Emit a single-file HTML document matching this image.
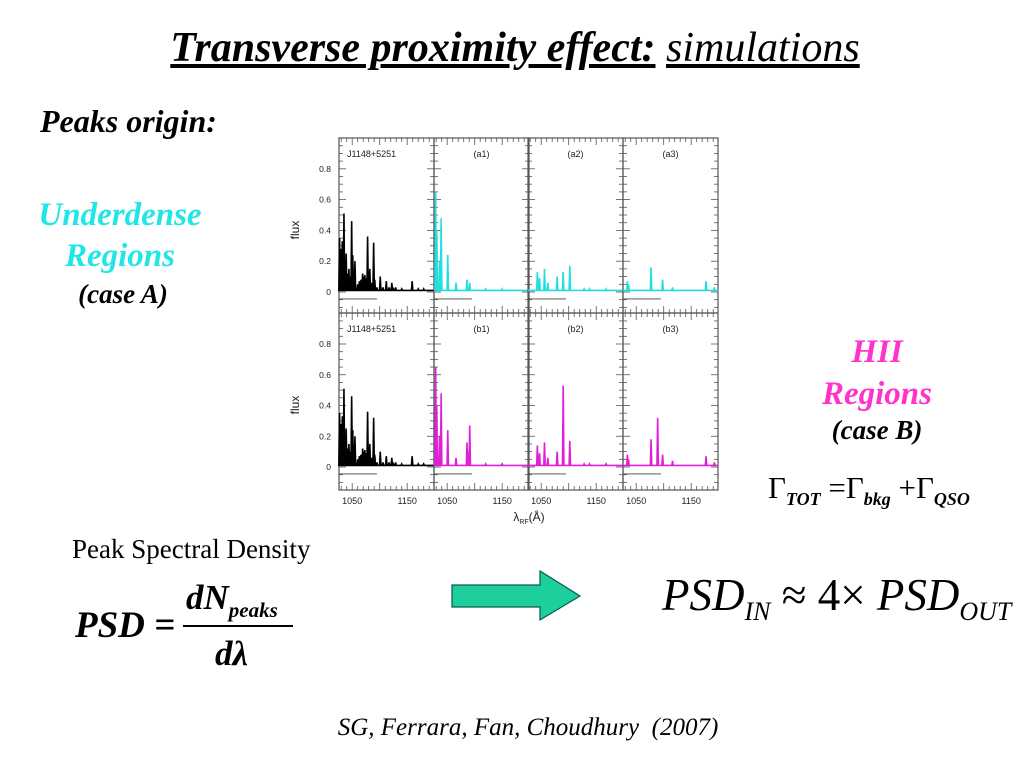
<!DOCTYPE html>
<html><head><meta charset="utf-8"><style>
body{margin:0;background:#fff;}
#slide{position:relative;width:1024px;height:768px;overflow:hidden;font-family:"Liberation Serif",serif;}
.t{position:absolute;white-space:nowrap;}
</style></head><body>
<div id="slide">
<div class="t" style="left:0;width:1030px;text-align:center;top:24px;font-size:42px;font-style:italic;"><span style="font-weight:bold;text-decoration:underline;">Transverse proximity effect:</span> <span style="text-decoration:underline;">simulations</span></div>
<div class="t" style="left:40px;top:103px;font-size:32px;font-weight:bold;font-style:italic;">Peaks origin:</div>
<div class="t" style="left:20px;width:200px;text-align:center;top:195px;font-size:33px;font-weight:bold;font-style:italic;color:#22e6e6;line-height:41px;">Underdense<br>Regions</div>
<div class="t" style="left:23px;width:200px;text-align:center;top:279px;font-size:27px;font-weight:bold;font-style:italic;">(case A)</div>
<div class="t" style="left:777px;width:200px;text-align:center;top:331px;font-size:33px;font-weight:bold;font-style:italic;color:#ff33cc;line-height:42px;">HII<br>Regions</div>
<div class="t" style="left:777px;width:200px;text-align:center;top:415px;font-size:27px;font-weight:bold;font-style:italic;">(case B)</div>
<div class="t" style="left:768px;top:470px;font-size:31px;">Γ<sub style="font-size:18px;font-style:italic;font-weight:bold;">TOT</sub> =Γ<sub style="font-size:18px;font-style:italic;font-weight:bold;">bkg</sub> +Γ<sub style="font-size:18px;font-style:italic;font-weight:bold;">QSO</sub></div>
<div class="t" style="left:72px;top:534px;font-size:27px;">Peak Spectral Density</div>
<div class="t" style="left:75px;top:604px;font-size:37px;font-weight:bold;font-style:italic;">PSD =</div>
<div class="t" style="left:186px;top:578px;font-size:35px;font-weight:bold;font-style:italic;">dN<sub style="font-size:21px;">peaks</sub></div>
<div style="position:absolute;left:183px;top:625px;width:110px;height:2px;background:#000;"></div>
<div class="t" style="left:215px;top:634px;font-size:35px;font-weight:bold;font-style:italic;">dλ</div>
<div class="t" style="left:662px;top:569px;font-size:45px;font-style:italic;">PSD<sub style="font-size:26px;">IN</sub> <span style="font-style:normal;">≈ 4×</span> PSD<sub style="font-size:26px;">OUT</sub></div>
<div class="t" style="left:0;width:1056px;text-align:center;top:714px;font-size:25px;font-style:italic;">SG, Ferrara, Fan, Choudhury &nbsp;(2007)</div>
<svg style="position:absolute;left:0;top:0" width="1024" height="768"><polygon points="452,585 540,585 540,571 580,596 540,620 540,607 452,607" fill="#1ccf9c" stroke="#0a5a50" stroke-width="1.2"/></svg>
<svg id="chart" style="position:absolute;left:0;top:0" width="1024" height="768" font-family="Liberation Sans, sans-serif"></svg>
</div>
<script>
const columnLabelsTop=["J1148+5251","(a1)","(a2)","(a3)"];
const columnLabelsBottom=["J1148+5251","(b1)","(b2)","(b3)"];
const yTicks=[0,0.2,0.4,0.6,0.8];
const xTicks=[1050,1150];
const obsWl=[1027,1029,1032,1035,1037,1039,1041,1044,1047,1049,1051,1053,1055,1060,1063,1066,1069,1071,1073,1076,1078,1080,1082,1085,1089,1091,1095,1101,1106,1112,1117,1122,1125,1129,1140,1159,1170,1180];
const obsFlux=[0.35,0.28,0.33,0.51,0.2,0.25,0.12,0.15,0.1,0.46,0.24,0.12,0.2,0.05,0.07,0.08,0.12,0.1,0.11,0.09,0.36,0.08,0.15,0.06,0.32,0.08,0.03,0.1,0.03,0.07,0.03,0.06,0.02,0.03,0.02,0.07,0.02,0.02];
const a1Wl=[1029,1031,1036,1039,1051,1066,1086,1091,1120,1150];
const a1Flux=[0.65,0.4,0.2,0.48,0.24,0.06,0.08,0.06,0.02,0.02];
const a2Wl=[1043,1047,1056,1062,1079,1090,1102,1128,1138,1168];
const a2Flux=[0.13,0.09,0.15,0.06,0.1,0.13,0.17,0.02,0.02,0.02];
const a3Wl=[1034,1036,1077,1098,1116,1177,1192];
const a3Flux=[0.07,0.05,0.16,0.08,0.03,0.07,0.03];
const b1Wl=[1029,1031,1036,1039,1051,1066,1086,1089,1091,1120,1150];
const b1Flux=[0.65,0.4,0.2,0.48,0.24,0.06,0.16,0.1,0.27,0.02,0.02];
const b2Wl=[1043,1047,1056,1062,1079,1090,1102,1128,1138,1168];
const b2Flux=[0.14,0.09,0.16,0.06,0.1,0.53,0.17,0.02,0.02,0.02];
const b3Wl=[1034,1036,1077,1089,1098,1116,1177,1192];
const b3Flux=[0.08,0.05,0.18,0.32,0.08,0.04,0.07,0.03];

const svg=document.getElementById('chart');
const NS='http://www.w3.org/2000/svg';
const colLeft=[339,434,528,623], colW=95;
const rows=[{top:138,bot:313,zero:292,scale:154},{top:313,bot:490,zero:467,scale:153.75}];
const wl0=1026, pxPerA=0.55;
function xS(c,w){return colLeft[c]+(w-wl0)*pxPerA;}
function yS(r,f){return rows[r].zero-f*rows[r].scale;}
function mk(tag,attrs){const e=document.createElementNS(NS,tag);for(const k in attrs)e.setAttribute(k,attrs[k]);svg.appendChild(e);return e;}
const series=[[obsWl,obsFlux,'#000'],[a1Wl,a1Flux,'#22dede'],[a2Wl,a2Flux,'#22dede'],[a3Wl,a3Flux,'#22dede'],
[obsWl,obsFlux,'#000'],[b1Wl,b1Flux,'#e020d8'],[b2Wl,b2Flux,'#e020d8'],[b3Wl,b3Flux,'#e020d8']];
for(let r=0;r<2;r++){for(let c=0;c<4;c++){
 const R=rows[r];const x0=colLeft[c];
 for(let w=1030;w<=1190;w+=10){const big=(w%50===0);const x=xS(c,w);const L=big?7:4;
  let e=mk('line',{x1:x,x2:x,y1:R.top,y2:R.top+L,stroke:'#555','stroke-width':0.8});
  
  e=mk('line',{x1:x,x2:x,y1:R.bot,y2:R.bot-L,stroke:'#555','stroke-width':0.8});
  }
 for(let f=-0.1;f<=1.0;f+=0.05){const v=Math.round(f*100)/100;const y=yS(r,v);if(y<R.top||y>R.bot)continue;const big=(Math.round(v*100)%20===0);const L=big?7:4;
  let e=mk('line',{x1:x0,x2:x0+L,y1:y,y2:y,stroke:'#555','stroke-width':0.8});
  
  e=mk('line',{x1:x0+colW,x2:x0+colW-L,y1:y,y2:y,stroke:'#555','stroke-width':0.8});
  }
 const fr=mk('rect',{x:x0,y:R.top,width:colW,height:R.bot-R.top,fill:'none',stroke:'#555','stroke-width':1.2});
 
 const lab=mk('text',{x:c===0?x0+8:x0+colW/2,y:R.top+19,'font-size':9,'text-anchor':c===0?'start':'middle',fill:'#222'});
 lab.textContent=(r===0?columnLabelsTop:columnLabelsBottom)[c];
 
 const ref=mk('line',{x1:x0,x2:xS(c,1095),y1:yS(r,-0.045),y2:yS(r,-0.045),stroke:'#444','stroke-width':0.8});
 
 const s=series[r*4+c];const idx=s[0].map((w,i)=>i).sort((a,b)=>s[0][a]-s[0][b]);
 const base=yS(r,0.01);let d='M'+x0+','+base;
 idx.forEach(i=>{const x=xS(c,s[0][i]);d+=' L'+(x-0.7)+','+base+' L'+x+','+yS(r,s[1][i])+' L'+(x+0.7)+','+base;});
 d+=' L'+(x0+colW)+','+base;
 const p=mk('path',{d:d,fill:'none',stroke:s[2],'stroke-width':1.6});
 
 if(c===0){yTicks.forEach(v=>{const t=mk('text',{x:x0-8,y:yS(r,v)+3,'font-size':8.5,'text-anchor':'end',fill:'#222'});t.textContent=v===0?'0':String(v);
  });
  const yl=mk('text',{x:0,y:0,'font-size':12,'text-anchor':'middle',fill:'#222',transform:'translate('+(x0-40)+','+(R.zero-62)+') rotate(-90)'});yl.textContent='flux';
  }
 if(r===1){xTicks.forEach(w=>{const t=mk('text',{x:xS(c,w),y:504,'font-size':9,'text-anchor':'middle',fill:'#222'});t.textContent=w;
  });}
}}
const xt=mk('text',{x:529,y:521,'font-size':12,'text-anchor':'middle',fill:'#222'});
xt.innerHTML='λ<tspan font-size="7" dy="3">RF</tspan><tspan dy="-3">(Å)</tspan>';


</script>
</body></html>
